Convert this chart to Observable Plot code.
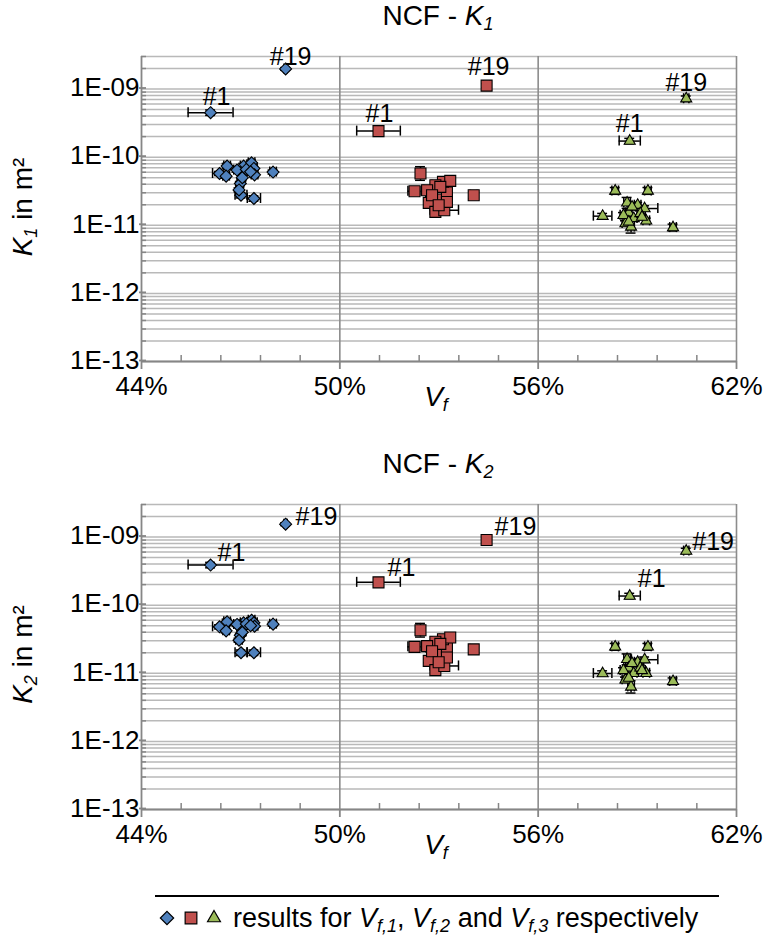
<!DOCTYPE html>
<html>
<head>
<meta charset="utf-8">
<script src="https://cdn.jsdelivr.net/npm/d3@7"></script>
<script src="https://cdn.jsdelivr.net/npm/@observablehq/plot@0.6"></script>
<style>
  body { margin: 0; background: #fff; }
  #wrap { position: relative; width: 767px; height: 942px; overflow: hidden; background: #fff; font-family: "Liberation Sans", Arial, sans-serif; }
  .panel { position: absolute; left: 0; }
  #overlay { position: absolute; left: 0; top: 0; pointer-events: none; }
</style>
</head>
<body>
<div id="wrap"></div>
<script>
// ---------------- DATA ----------------
// Fibre volume content V_f in %, sample #1 first, sample #19 last
const vf_1 = [46.09, 46.59, 46.36, 46.56, 47.09, 47.33, 46.99, 47.40, 47.42, 46.89, 46.99, 47.05, 47.01, 47.40, 47.98, 47.17, 46.95, 47.30, 48.36];
const vf_2 = [51.17, 52.44, 52.26, 52.76, 52.69, 52.89, 53.16, 53.09, 53.24, 53.12, 53.34, 52.89, 52.64, 54.05, 53.04, 52.79, 53.24, 52.99, 54.44];
const vf_3 = [58.77, 58.33, 59.32, 58.69, 59.01, 59.22, 58.74, 57.95, 58.89, 59.27, 58.64, 58.81, 60.08, 59.09, 58.58, 58.84, 58.74, 59.14, 60.48];

// Permeability K1 in m²
const k1_1 = [4.49e-10, 7.38e-11, 5.75e-11, 5.26e-11, 7.38e-11, 8.24e-11, 6.08e-11, 6.82e-11, 5.49e-11, 6.45e-11, 4.10e-11, 5.0e-11, 2.76e-11, 2.47e-11, 6.03e-11, 6.6e-11, 3.3e-11, 6.1e-11, 1.97e-9];
const k1_2 = [2.41e-10, 5.75e-11, 3.16e-11, 2.98e-11, 2.13e-11, 1.57e-11, 1.66e-11, 2.39e-11, 3.03e-11, 4.34e-11, 4.48e-11, 3.87e-11, 3.27e-11, 2.76e-11, 3.66e-11, 2.76e-11, 2.2e-11, 1.97e-11, 1.12e-9];
const k1_3 = [1.72e-10, 3.19e-11, 3.19e-11, 2.13e-11, 1.97e-11, 1.76e-11, 1.52e-11, 1.36e-11, 1.26e-11, 1.16e-11, 1.06e-11, 9.44e-12, 9.25e-12, 1.49e-11, 1.40e-11, 1.86e-11, 1.12e-11, 1.32e-11, 7.2e-10];

// Permeability K2 in m²
const k2_1 = [3.87e-10, 5.68e-11, 4.8e-11, 4.19e-11, 5.5e-11, 6.0e-11, 4.9e-11, 5.5e-11, 4.9e-11, 5.2e-11, 3.6e-11, 4.0e-11, 2.0e-11, 2.0e-11, 5.26e-11, 5.3e-11, 3.05e-11, 5.0e-11, 1.54e-9];
const k2_2 = [2.16e-10, 4.28e-11, 2.44e-11, 2.48e-11, 1.52e-11, 1.11e-11, 1.28e-11, 1.95e-11, 2.39e-11, 3.16e-11, 3.35e-11, 2.9e-11, 2.5e-11, 2.24e-11, 2.7e-11, 2.1e-11, 1.7e-11, 1.45e-11, 9.03e-10];
const k2_3 = [1.36e-10, 2.44e-11, 2.44e-11, 1.6e-11, 1.45e-11, 1.58e-11, 1.2e-11, 9.9e-12, 1.0e-11, 1.0e-11, 8.0e-12, 6.3e-12, 7.6e-12, 1.2e-11, 1.1e-11, 1.4e-11, 8.5e-12, 1.1e-11, 6.22e-10];

// Error of V_f (± percentage points)
const vfErr_1 = [0.68, 0.1, 0.21, 0.1, 0.1, 0.1, 0.1, 0.1, 0.1, 0.1, 0.1, 0.1, 0.18, 0.2, 0.1, 0.1, 0.1, 0.1, 0.05];
const vfErr_2 = [0.66, 0.1, 0.2, 0.1, 0.1, 0.1, 0.43, 0.1, 0.1, 0.1, 0.1, 0.1, 0.1, 0.1, 0.1, 0.1, 0.1, 0.1, 0.1];
const vfErr_3 = [0.32, 0.1, 0.1, 0.1, 0.1, 0.4, 0.1, 0.28, 0.1, 0.1, 0.1, 0.1, 0.1, 0.1, 0.1, 0.1, 0.1, 0.1, 0.08];

// Error of K (± decades, relative)
const kErr_1 = [0.04, 0.04, 0.03, 0.03, 0.04, 0.04, 0.03, 0.03, 0.03, 0.03, 0.03, 0.03, 0.04, 0.04, 0.03, 0.03, 0.03, 0.03, 0.02];
const kErr_2 = [0.04, 0.1, 0.03, 0.03, 0.03, 0.04, 0.03, 0.03, 0.03, 0.03, 0.03, 0.03, 0.03, 0.05, 0.03, 0.03, 0.03, 0.03, 0.03];
const kErr_3 = [0.04, 0.05, 0.05, 0.08, 0.04, 0.04, 0.04, 0.04, 0.04, 0.04, 0.04, 0.09, 0.05, 0.04, 0.04, 0.04, 0.04, 0.04, 0.04];

// Point labels
const pointLabels = ["#1", "", "", "", "", "", "", "", "", "", "", "", "", "", "", "", "", "", "#19"];

// Axis ticks
const xTicks = [44, 50, 56, 62];
const yTicks = [1e-13, 1e-12, 1e-11, 1e-10, 1e-9];
const seriesNames = ["V_f,1", "V_f,2", "V_f,3"];
const panelTitles = ["K1", "K2"];

// ---------------- CHART ----------------
const series = [
  {name: seriesNames[0], vf: vf_1, K1: k1_1, K2: k2_1, ex: vfErr_1, ey: kErr_1, symbol: "diamond2", fill: "#4F81BD", r: 5.4},
  {name: seriesNames[1], vf: vf_2, K1: k1_2, K2: k2_2, ex: vfErr_2, ey: kErr_2, symbol: "square", fill: "#C0504D", r: 6.2},
  {name: seriesNames[2], vf: vf_3, K1: k1_3, K2: k2_3, ex: vfErr_3, ey: kErr_3, symbol: "triangle", fill: "#9BBB59", r: 4.1}
];

const W = 767, H = 450;
const M = {left: 141, right: 31, top: 56, bottom: 89};
const pxPerDecade = 68;
const capF = 10 ** (5 / pxPerDecade);      // cap half-length in y (≈5px)
const capX = 0.15;                          // cap half-length in x (% points)

const gridVals = [];
for (let e = -13; e <= -9; e++) for (let m = 1; m <= 9; m++) {
  const v = m * 10 ** e;
  if (v <= 3.0001e-9) gridVals.push(v);
}
const minorY = gridVals.filter(v => !yTicks.some(t => Math.abs(v / t - 1) < 1e-6));
const minorX = d3.range(0, 16).map(i => 44 + 1.2 * i).filter(v => !xTicks.some(t => Math.abs(v - t) < 1e-6) && v < 62);
const fmtE = d => "1E-" + String(Math.round(-Math.log10(d))).padStart(2, "0");

// label placement per panel (style, not data)
const labelStyle = {
  K1: {anchor: "middle", off: [[6, -16], [1, -17], [0, -17]], offLast: [[5, -12], [2, -19], [0, -16]]},
  K2: {anchor: "start", off: [[7, -12], [9, -14], [8, -17]], offLast: [[10, -7], [8, -13], [6, -9]]}
};

function buildPanel(kKey) {
  const rows = [];
  series.forEach((s, si) => s.vf.forEach((v, i) => rows.push({
    si, vf: v, k: s[kKey][i], ex: s.ex[i], ey: s.ey[i], label: pointLabels[i], last: i === s.vf.length - 1
  })));
  const ls = labelStyle[kKey];
  const dotMarks = series.map((s, si) => Plot.dot(rows.filter(d => d.si === si), {
    x: "vf", y: "k", symbol: s.symbol, r: s.r, fill: s.fill, stroke: "#000", strokeWidth: 1.1
  }));
  const labelMarks = rows.filter(d => d.label).map(d => {
    const o = d.last ? ls.offLast[d.si] : ls.off[d.si];
    return Plot.text([d], {x: "vf", y: "k", text: "label", dx: o[0], dy: o[1], textAnchor: ls.anchor,
      fontSize: 25, fill: "#000"});
  });
  return Plot.plot({
    width: W, height: H,
    marginLeft: M.left, marginRight: M.right, marginTop: M.top, marginBottom: M.bottom,
    style: {fontFamily: "Liberation Sans, Arial, sans-serif", fontSize: "26px", color: "#000", background: "transparent", overflow: "visible"},
    x: {domain: [44, 62], label: null},
    y: {type: "log", domain: [1e-13, 3e-9], label: null},
    marks: [
      Plot.ruleY(gridVals, {stroke: "#b9b9b9", strokeWidth: 1.5}),
      Plot.ruleX([50, 56, 62], {stroke: "#8c8c8c", strokeWidth: 1.6}),
      Plot.ruleY(minorY, {x1: 44, x2: 44 + 5 / 33.1, stroke: "#868686", strokeWidth: 1.5}),
      Plot.ruleX(minorX, {y1: 1e-13, y2: 1e-13 * 10 ** (6 / pxPerDecade), stroke: "#868686", strokeWidth: 1.5}),
      Plot.ruleX([44], {stroke: "#868686", strokeWidth: 1.8}),
      Plot.ruleY([1e-13], {stroke: "#868686", strokeWidth: 1.8}),
      Plot.axisX({ticks: xTicks, tickFormat: d => d + "%", tickSize: 8, tickPadding: 7, stroke: "#868686", strokeWidth: 1.8, fontSize: 26, label: null}),
      Plot.axisY({ticks: yTicks, tickFormat: fmtE, tickSize: 7, tickPadding: 0, dx: 5, dy: -1, stroke: "#868686", strokeWidth: 1.8, fontSize: 26, label: null}),
      // horizontal error bars (V_f)
      Plot.ruleY(rows, {y: "k", x1: d => d.vf - d.ex, x2: d => d.vf + d.ex, stroke: "#000", strokeWidth: 1.5}),
      Plot.ruleX(rows, {x: d => d.vf - d.ex, y1: d => d.k / capF, y2: d => d.k * capF, stroke: "#000", strokeWidth: 1.5}),
      Plot.ruleX(rows, {x: d => d.vf + d.ex, y1: d => d.k / capF, y2: d => d.k * capF, stroke: "#000", strokeWidth: 1.5}),
      // vertical error bars (K)
      Plot.ruleX(rows, {x: "vf", y1: d => d.k / 10 ** d.ey, y2: d => d.k * 10 ** d.ey, stroke: "#000", strokeWidth: 1.5}),
      Plot.ruleY(rows, {y: d => d.k / 10 ** d.ey, x1: d => d.vf - capX, x2: d => d.vf + capX, stroke: "#000", strokeWidth: 1.5}),
      Plot.ruleY(rows, {y: d => d.k * 10 ** d.ey, x1: d => d.vf - capX, x2: d => d.vf + capX, stroke: "#000", strokeWidth: 1.5}),
      ...dotMarks,
      ...labelMarks
    ]
  });
}

const wrap = document.getElementById("wrap");
const offsets = [0, 447.5];
["K1", "K2"].forEach((k, i) => {
  const p = buildPanel(k);
  p.classList.add("panel");
  p.style.top = offsets[i] + "px";
  wrap.appendChild(p);
});

// ---------------- TEXT OVERLAY (titles, axis labels, legend) ----------------
const svg = d3.select(wrap).append("svg").attr("id", "overlay").attr("width", W).attr("height", 942)
  .style("font-family", "Liberation Sans, Arial, sans-serif");

function sub(t, main, subtxt, fs, italic) {
  t.append("tspan").text(main).attr("font-style", italic ? "italic" : null);
  t.append("tspan").text(subtxt).attr("font-size", fs).attr("baseline-shift", "-28%")
    .attr("font-style", italic ? "italic" : null);
}

offsets.forEach((off, i) => {
  // title
  const t = svg.append("text").attr("x", 438).attr("y", 25 + off).attr("text-anchor", "middle").attr("font-size", 28);
  t.append("tspan").text("NCF - ");
  sub(t, panelTitles[i][0], panelTitles[i].slice(1), 18, true);
  // x label
  const xl = svg.append("text").attr("x", 436).attr("y", 406 + off).attr("text-anchor", "middle").attr("font-size", 28);
  sub(xl, "V", "f", 18, true);
  // y label
  const yl = svg.append("text").attr("transform", `translate(32,${207 + off}) rotate(-90)`).attr("text-anchor", "middle").attr("font-size", 28);
  sub(yl, panelTitles[i][0], panelTitles[i].slice(1), 18, true);
  yl.append("tspan").text(" in m²");
});

// legend
svg.append("line").attr("x1", 155).attr("x2", 719).attr("y1", 896).attr("y2", 896).attr("stroke", "#000").attr("stroke-width", 2);
const lgY = 918;
const symGen = [d3.symbolDiamond2, d3.symbolSquare, d3.symbolTriangle];
const symSize = [6.0, 6.6, 4.8];
const symX = [167, 191, 214];
series.forEach((s, i) => {
  svg.append("path").attr("d", d3.symbol(symGen[i], symSize[i] ** 2 * Math.PI)())
    .attr("transform", `translate(${symX[i]},${lgY})`).attr("fill", s.fill).attr("stroke", "#000").attr("stroke-width", 1.2);
});
const lt = svg.append("text").attr("x", 233).attr("y", lgY + 9).attr("font-size", 27);
lt.append("tspan").text("results for ");
seriesNames.forEach((n, i) => {
  const [main, s1] = n.split("_");
  sub(lt, main, s1, 18, true);
  lt.append("tspan").text(i === 0 ? ", " : i === 1 ? " and " : " respectively");
});
</script>
</body>
</html>
